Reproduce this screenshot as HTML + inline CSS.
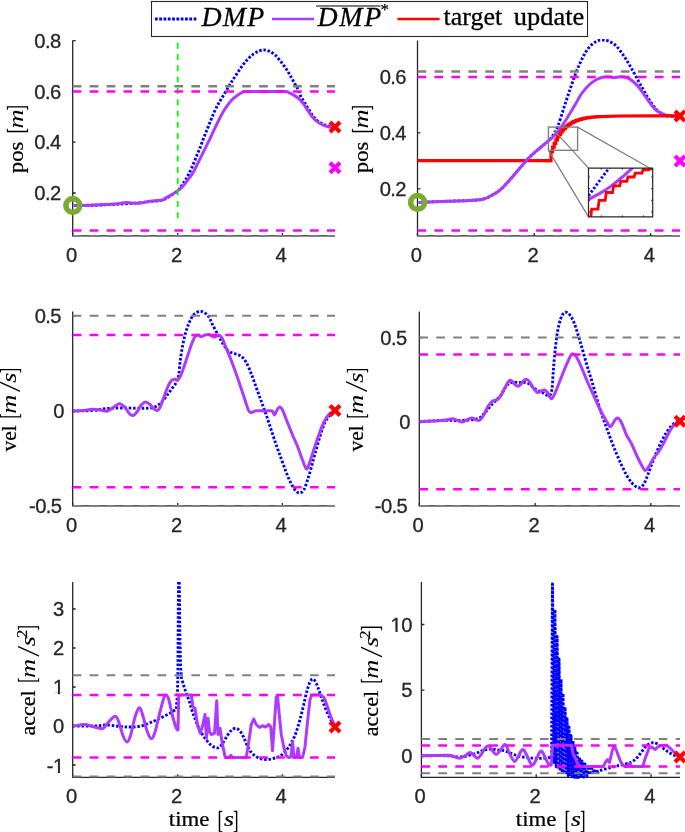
<!DOCTYPE html>
<html><head><meta charset="utf-8"><title>DMP plots</title>
<style>html,body{margin:0;padding:0;background:#fff}svg{display:block;will-change:transform}</style>
</head><body>
<svg width="685" height="832" viewBox="0 0 685 832">
<rect width="685" height="832" fill="#fff"/>
<defs>
<clipPath id="cTL"><rect x="70.7" y="39" width="267.3" height="198.9"/></clipPath>
<clipPath id="cTR"><rect x="415.5" y="39" width="267.5" height="198.9"/></clipPath>
<clipPath id="cML"><rect x="70.7" y="309.9" width="267.3" height="198"/></clipPath>
<clipPath id="cMR"><rect x="417.3" y="310" width="265.7" height="197.9"/></clipPath>
<clipPath id="cBL"><rect x="70.7" y="580.5" width="267.3" height="198.8"/></clipPath>
<clipPath id="cBR"><rect x="419.4" y="580.5" width="263.6" height="198.8"/></clipPath>
<clipPath id="cIN"><rect x="588.5" y="168.1" width="64.2" height="48.8"/></clipPath>
<clipPath id="k1"><rect x="-60" y="-30" width="70" height="28.15"/><rect x="-5.52" y="-2" width="2.01" height="2.3"/></clipPath>
<clipPath id="k10"><rect x="-60" y="-30" width="70" height="28.15"/><rect x="-15.75" y="-2" width="2.01" height="2.3"/><rect x="-10.4" y="-3" width="16" height="6"/></clipPath>
</defs>
<path d="M72.7 40.5V235.9H335" stroke="#262626" stroke-width="1.3" fill="none"/>
<path d="M72.7 235.9v-3M177.7 235.9v-3M282.4 235.9v-3M72.7 40.6h3M72.7 91.4h3M72.7 142.2h3M72.7 193h3" stroke="#262626" stroke-width="1.3" fill="none"/>
<text transform="translate(71.2 261.9) scale(1.04 1)" font-family="Liberation Sans, Arial, Helvetica, sans-serif" font-size="19.4" text-anchor="middle" fill="#262626" stroke="#262626" stroke-width="0.3" letter-spacing="-0.55">0</text>
<text transform="translate(176.2 261.9) scale(1.04 1)" font-family="Liberation Sans, Arial, Helvetica, sans-serif" font-size="19.4" text-anchor="middle" fill="#262626" stroke="#262626" stroke-width="0.3" letter-spacing="-0.55">2</text>
<text transform="translate(280.9 261.9) scale(1.04 1)" font-family="Liberation Sans, Arial, Helvetica, sans-serif" font-size="19.4" text-anchor="middle" fill="#262626" stroke="#262626" stroke-width="0.3" letter-spacing="-0.55">4</text>
<text transform="translate(60.7 47.7) scale(1.04 1)" font-family="Liberation Sans, Arial, Helvetica, sans-serif" font-size="19.4" text-anchor="end" fill="#262626" stroke="#262626" stroke-width="0.3" letter-spacing="-0.55">0.8</text>
<text transform="translate(60.7 98.5) scale(1.04 1)" font-family="Liberation Sans, Arial, Helvetica, sans-serif" font-size="19.4" text-anchor="end" fill="#262626" stroke="#262626" stroke-width="0.3" letter-spacing="-0.55">0.6</text>
<text transform="translate(60.7 149.3) scale(1.04 1)" font-family="Liberation Sans, Arial, Helvetica, sans-serif" font-size="19.4" text-anchor="end" fill="#262626" stroke="#262626" stroke-width="0.3" letter-spacing="-0.55">0.4</text>
<text transform="translate(60.7 200.1) scale(1.04 1)" font-family="Liberation Sans, Arial, Helvetica, sans-serif" font-size="19.4" text-anchor="end" fill="#262626" stroke="#262626" stroke-width="0.3" letter-spacing="-0.55">0.2</text>
<path d="M73.75 205.5C77.29 205.45 88.12 205.4 95 205.2C101.88 205 107.92 204.67 115 204.3C122.08 203.93 131.67 203.47 137.5 203C143.33 202.53 145.83 202 150 201.5C154.17 201 159.17 200.92 162.5 200C165.83 199.08 167.48 197.52 170 196C172.52 194.48 175.63 192.67 177.6 190.9C179.57 189.13 180.48 187.22 181.8 185.4C183.12 183.58 184.28 182 185.5 180C186.72 178 187.9 175.8 189.1 173.4C190.3 171 191.5 168.4 192.7 165.6C193.9 162.8 195.1 159.52 196.3 156.6C197.5 153.68 198.7 151.12 199.9 148.1C201.1 145.08 202.3 141.6 203.5 138.5C204.7 135.4 205.9 132.5 207.1 129.5C208.3 126.5 209.5 123.42 210.7 120.5C211.9 117.58 213.1 114.65 214.3 112C215.5 109.35 216.82 106.63 217.9 104.6C218.98 102.57 218.97 102.87 220.8 99.8C222.63 96.73 226.47 90.17 228.9 86.2C231.33 82.23 233.33 79.17 235.4 76C237.47 72.83 239.35 69.88 241.3 67.2C243.25 64.52 245.15 62.03 247.1 59.9C249.05 57.77 251.05 55.87 253 54.4C254.95 52.93 256.98 51.83 258.8 51.1C260.62 50.37 262.2 50 263.9 50C265.6 50 267.17 50.3 269 51.1C270.83 51.9 272.95 53.08 274.9 54.8C276.85 56.52 278.83 59.08 280.7 61.4C282.57 63.72 284.4 66.15 286.1 68.7C287.8 71.25 289.37 74.03 290.9 76.7C292.43 79.37 294.1 82.58 295.3 84.7C296.5 86.82 297.42 87.88 298.1 89.4C298.78 90.92 298.82 92.42 299.4 93.8C299.98 95.18 300.87 96.47 301.6 97.7C302.33 98.93 303.07 99.97 303.8 101.2C304.53 102.43 305.27 103.87 306 105.1C306.73 106.33 307.47 107.43 308.2 108.6C308.93 109.77 309.67 110.93 310.4 112.1C311.13 113.27 311.58 114.28 312.6 115.6C313.62 116.92 314.97 118.67 316.5 120C318.03 121.33 320.27 122.73 321.8 123.6C323.33 124.47 324.33 124.7 325.7 125.2C327.07 125.7 328.45 126.27 330 126.6C331.55 126.93 334.17 127.1 335 127.2" stroke="#0000ff" stroke-width="2.9" stroke-dasharray="2.5 1.8" stroke-dashoffset="0" fill="none" stroke-linejoin="round" clip-path="url(#cTL)"/>
<path d="M73.75 205.5C77.29 205.42 88.12 205.25 95 205C101.88 204.75 109.79 204.4 115 204C120.21 203.6 122.5 202.72 126.25 202.6C130 202.47 133.54 203.47 137.5 203.25C141.46 203.03 145.83 201.79 150 201.25C154.17 200.71 160 200.49 162.5 200C165 199.51 163.58 199.12 165 198.3C166.42 197.48 168.9 196.33 171 195.1C173.1 193.87 175.58 192.42 177.6 190.9C179.62 189.38 181.18 188.12 183.1 186C185.02 183.88 187.4 180.5 189.1 178.2C190.8 175.9 191.9 174.6 193.3 172.2C194.7 169.8 196.2 166.4 197.5 163.8C198.8 161.2 199.8 159.22 201.1 156.6C202.4 153.98 203.9 150.92 205.3 148.1C206.7 145.28 208.1 142.6 209.5 139.7C210.9 136.8 212.18 133.9 213.7 130.7C215.22 127.5 217.08 123.52 218.6 120.5C220.12 117.48 221.3 115.15 222.8 112.6C224.3 110.05 226.07 107.33 227.6 105.2C229.13 103.07 230.45 101.38 232 99.8C233.55 98.22 235.12 96.97 236.9 95.7C238.68 94.43 241.12 92.9 242.7 92.2C244.28 91.5 242.52 91.62 246.4 91.5C250.28 91.38 259.57 91.48 266 91.5C272.43 91.52 281.1 91.37 285 91.6C288.9 91.83 287.93 92.32 289.4 92.9C290.87 93.48 292.35 94.23 293.8 95.1C295.25 95.97 296.65 96.87 298.1 98.1C299.55 99.33 301.03 100.67 302.5 102.5C303.97 104.33 305.43 106.92 306.9 109.1C308.37 111.28 309.85 113.7 311.3 115.6C312.75 117.5 314.15 119.18 315.6 120.5C317.05 121.82 318.53 122.63 320 123.5C321.47 124.37 322.93 125.13 324.4 125.7C325.87 126.27 327.03 126.63 328.8 126.9C330.57 127.17 333.97 127.23 335 127.3" stroke="#ad3bff" stroke-width="3" fill="none" stroke-linejoin="round" clip-path="url(#cTL)"/>
<path d="M177.7 42.7V218.8" stroke="#00ff00" stroke-width="1.8" stroke-dasharray="6.0 5.3" fill="none"/>
<path d="M72.7 86.3H335" stroke="#808080" stroke-width="2.5" stroke-dasharray="8.7 8.25" stroke-dashoffset="0" fill="none"/>
<path d="M72.7 91.5H335" stroke="#ff00ff" stroke-width="2.5" stroke-dasharray="8.7 8.25" stroke-dashoffset="0" fill="none"/>
<path d="M72.7 230.6H335" stroke="#ff00ff" stroke-width="2.5" stroke-dasharray="8.7 8.25" stroke-dashoffset="0" fill="none"/>
<path d="M72.7 235.9H335" stroke="#808080" stroke-width="2" stroke-dasharray="8.7 8.25" stroke-dashoffset="0" fill="none"/>
<circle cx="72.8" cy="205.5" r="6.9" stroke="#77ac30" stroke-width="5.6" fill="none"/>
<path d="M330 122.1L340 132.1M330 132.1L340 122.1" stroke="#ff0000" stroke-width="4.2" fill="none"/>
<path d="M330 162.7L340 172.7M330 172.7L340 162.7" stroke="#ff00ff" stroke-width="4.2" fill="none"/>
<g transform="translate(23.3 172.8) rotate(-90)" font-family="Liberation Serif, Times New Roman, serif" fill="#000"><text transform="translate(-0.36 0) scale(1.027 1)" font-size="22" stroke="#000" stroke-width="0.25">pos</text><text transform="translate(39.47 0.4) scale(0.694 1.17)" font-size="22" stroke="#000" stroke-width="0.25">[</text><text transform="translate(44.25 0) scale(1.200 1)" font-size="22" font-style="italic">m</text><text transform="translate(62.65 0.4) scale(0.694 1.17)" font-size="22" stroke="#000" stroke-width="0.25">]</text></g>
<path d="M417.5 40.5V235.9H680" stroke="#262626" stroke-width="1.3" fill="none"/>
<path d="M417.5 235.9v-3M534.3 235.9v-3M650.6 235.9v-3M417.5 76.9h3M417.5 132.9h3M417.5 188.9h3" stroke="#262626" stroke-width="1.3" fill="none"/>
<text transform="translate(416 261.9) scale(1.04 1)" font-family="Liberation Sans, Arial, Helvetica, sans-serif" font-size="19.4" text-anchor="middle" fill="#262626" stroke="#262626" stroke-width="0.3" letter-spacing="-0.55">0</text>
<text transform="translate(532.8 261.9) scale(1.04 1)" font-family="Liberation Sans, Arial, Helvetica, sans-serif" font-size="19.4" text-anchor="middle" fill="#262626" stroke="#262626" stroke-width="0.3" letter-spacing="-0.55">2</text>
<text transform="translate(649.1 261.9) scale(1.04 1)" font-family="Liberation Sans, Arial, Helvetica, sans-serif" font-size="19.4" text-anchor="middle" fill="#262626" stroke="#262626" stroke-width="0.3" letter-spacing="-0.55">4</text>
<text transform="translate(406 84) scale(1.04 1)" font-family="Liberation Sans, Arial, Helvetica, sans-serif" font-size="19.4" text-anchor="end" fill="#262626" stroke="#262626" stroke-width="0.3" letter-spacing="-0.55">0.6</text>
<text transform="translate(406 140) scale(1.04 1)" font-family="Liberation Sans, Arial, Helvetica, sans-serif" font-size="19.4" text-anchor="end" fill="#262626" stroke="#262626" stroke-width="0.3" letter-spacing="-0.55">0.4</text>
<text transform="translate(406 196) scale(1.04 1)" font-family="Liberation Sans, Arial, Helvetica, sans-serif" font-size="19.4" text-anchor="end" fill="#262626" stroke="#262626" stroke-width="0.3" letter-spacing="-0.55">0.2</text>
<path d="M417.5 160.6H551.5" stroke="#ff0000" stroke-width="3.2" fill="none" stroke-linejoin="miter" clip-path="url(#cTR)"/>
<path d="M418.75 202.5C423.54 202.29 438.96 201.58 447.5 201.25C456.04 200.92 463.96 200.88 470 200.5C476.04 200.12 480 199.92 483.75 199C487.5 198.08 489.79 196.5 492.5 195C495.21 193.5 497.5 192.08 500 190C502.5 187.92 505 185.21 507.5 182.5C510 179.79 512.5 176.67 515 173.75C517.5 170.83 520 167.83 522.5 165C525 162.17 527.5 159.25 530 156.75C532.5 154.25 535 152.17 537.5 150C540 147.83 542.67 145.83 545 143.75C547.33 141.67 549.38 140.42 551.5 137.5C553.62 134.58 555.67 131.25 557.75 126.25C559.83 121.25 561.92 113.75 564 107.5C566.08 101.25 568.17 94.79 570.25 88.75C572.33 82.71 574.42 76.46 576.5 71.25C578.58 66.04 580.67 61.46 582.75 57.5C584.83 53.54 586.71 50.21 589 47.5C591.29 44.79 594.21 42.5 596.5 41.25C598.79 40 600.67 40 602.75 40C604.83 40 606.71 40.21 609 41.25C611.29 42.29 614 43.75 616.5 46.25C619 48.75 621.71 52.92 624 56.25C626.29 59.58 628.17 62.71 630.25 66.25C632.33 69.79 634.42 73.75 636.5 77.5C638.58 81.25 640.83 85.37 642.75 88.75C644.67 92.13 646.38 95.16 648 97.8C649.62 100.44 651 102.53 652.5 104.6C654 106.67 655.5 108.7 657 110.2C658.5 111.7 660 112.7 661.5 113.6C663 114.5 664.42 115.17 666 115.6C667.58 116.03 668.75 116.08 671 116.2C673.25 116.32 678.08 116.28 679.5 116.3" stroke="#0000ff" stroke-width="2.9" stroke-dasharray="2.5 1.8" stroke-dashoffset="0" fill="none" stroke-linejoin="round" clip-path="url(#cTR)"/>
<path d="M418.75 202.5C423.54 202.29 438.96 201.58 447.5 201.25C456.04 200.92 463.96 200.88 470 200.5C476.04 200.12 480 199.92 483.75 199C487.5 198.08 489.79 196.5 492.5 195C495.21 193.5 497.5 192.08 500 190C502.5 187.92 505 185.21 507.5 182.5C510 179.79 512.5 176.67 515 173.75C517.5 170.83 520 167.83 522.5 165C525 162.17 527.5 159.25 530 156.75C532.5 154.25 535 152.17 537.5 150C540 147.83 542.5 145.83 545 143.75C547.5 141.67 550 140 552.5 137.5C555 135 557.5 132.08 560 128.75C562.5 125.42 565 121.46 567.5 117.5C570 113.54 572.67 108.96 575 105C577.33 101.04 579.17 97.08 581.5 93.75C583.83 90.42 586.5 87.38 589 85C591.5 82.62 594 80.83 596.5 79.5C599 78.17 601.71 77.42 604 77C606.29 76.58 608.58 76.88 610.25 77C611.92 77.12 612.33 77.79 614 77.75C615.67 77.71 618.17 76.79 620.25 76.75C622.33 76.71 624.42 76.75 626.5 77.5C628.58 78.25 630.67 79.58 632.75 81.25C634.83 82.92 636.92 85 639 87.5C641.08 90 643.4 93.63 645.25 96.25C647.1 98.87 648.44 101.03 650.1 103.2C651.76 105.38 653.5 107.68 655.2 109.3C656.9 110.92 658.6 111.97 660.3 112.9C662 113.83 663.62 114.42 665.4 114.9C667.18 115.38 668.65 115.58 671 115.8C673.35 116.02 678.08 116.13 679.5 116.2" stroke="#ad3bff" stroke-width="3" fill="none" stroke-linejoin="round" clip-path="url(#cTR)"/>
<path d="M545 160.6L551 160.6L551 151.55L552.6 151.55L552.6 147.15L554.2 147.15L554.2 143.29L555.8 143.29L555.8 139.92L557.4 139.92L557.4 136.96L559 136.96L559 134.36L560.6 134.36L560.6 132.09L562.2 132.09L562.2 130.1L563.8 130.1L563.8 128.35L565.4 128.35L565.4 126.82L567 126.82L567 125.48L568.6 125.48L568.6 124.3L570.2 124.3L570.2 123.27L571.8 123.27L571.8 122.37L573.4 122.37L573.4 121.58L575 121.58L575 120.89L576.6 120.89L576.6 120.28L578.2 120.28L578.2 119.75L579.8 119.75L579.8 119.28L581.4 119.28L581.4 118.87L583 118.87L583 118.51L584.6 118.51L584.6 118.19L586.2 118.19L586.2 117.92L587.8 117.92L587.8 117.67L589.4 117.67L589.4 117.46L591 117.46L591 117.27L592.6 117.27L592.6 117.11L594.2 117.11L594.2 116.96L595.8 116.96L595.8 116.84L597.4 116.84L597.4 116.72L599 116.72L599 116.63L600.6 116.63L620 116L650 115.9L679.5 115.9" stroke="#ff0000" stroke-width="3.2" fill="none" stroke-linejoin="miter" clip-path="url(#cTR)"/>
<path d="M417.5 71.5H680" stroke="#808080" stroke-width="2.5" stroke-dasharray="8.7 8.25" stroke-dashoffset="0" fill="none"/>
<path d="M417.5 77H680" stroke="#ff00ff" stroke-width="2.5" stroke-dasharray="8.7 8.25" stroke-dashoffset="0" fill="none"/>
<path d="M417.5 230.6H680" stroke="#ff00ff" stroke-width="2.5" stroke-dasharray="8.7 8.25" stroke-dashoffset="0" fill="none"/>
<path d="M417.5 235.9H680" stroke="#808080" stroke-width="2" stroke-dasharray="8.7 8.25" stroke-dashoffset="0" fill="none"/>
<circle cx="417.6" cy="202.4" r="6.9" stroke="#77ac30" stroke-width="5.6" fill="none"/>
<path d="M675 111.1L685 121.1M675 121.1L685 111.1" stroke="#ff0000" stroke-width="4.2" fill="none"/>
<path d="M675 155.9L685 165.9M675 165.9L685 155.9" stroke="#ff00ff" stroke-width="4.2" fill="none"/>
<rect x="548.4" y="127.1" width="29.2" height="23.2" stroke="#808080" stroke-width="1.4" fill="none"/>
<path d="M548.5 150.4L588.5 216.9M577.6 127.1L652.7 169.8M554 130.1L588.5 168.1" stroke="#808080" stroke-width="1.3" fill="none"/>
<rect x="588.5" y="168.1" width="64.2" height="48.8" fill="#fff"/>
<path d="M588.5 195.8L599 181.5L609 168.1L612 164" stroke="#0000ff" stroke-width="2.9" stroke-dasharray="2.3 2.0" stroke-dashoffset="0" fill="none" stroke-linejoin="round" clip-path="url(#cIN)"/>
<path d="M585 202C585.5 201.62 585.57 201.1 588 199.7C590.43 198.3 595.82 195.82 599.6 193.6C603.38 191.38 607 189.08 610.7 186.4C614.4 183.72 618.18 180.55 621.8 177.5C625.42 174.45 630.03 170.18 632.4 168.1C634.77 166.02 635.4 165.52 636 165" stroke="#ad3bff" stroke-width="3" fill="none" stroke-linejoin="round" clip-path="url(#cIN)"/>
<path d="M590.5 220L591.6 209.2L598 209.2L599.1 200.3L605.2 200.3L606.3 192.5L612.5 192.5L613.6 185.9L619.7 185.9L620.8 181.4L626.9 181.4L628 177L634.1 177L635.2 173.1L641.9 173.1L643 169.8L649.1 169.8L650.2 168.6L653.5 168.6L660 168.6" stroke="#ff0000" stroke-width="2.8" fill="none" stroke-linejoin="miter" clip-path="url(#cIN)"/>
<path d="M588.5 168.1H652.7V216.9H588.5ZM601.3 216.9v-1.4M601.3 168.1v1.4M622.4 216.9v-1.4M622.4 168.1v1.4M643.5 216.9v-1.4M643.5 168.1v1.4M588.5 177h1.4M652.7 177h-1.4M588.5 188.6h1.4M652.7 188.6h-1.4M588.5 200.3h1.4M652.7 200.3h-1.4M588.5 211.9h1.4M652.7 211.9h-1.4" stroke="#262626" stroke-width="1.2" fill="none"/>
<g transform="translate(368.3 172.8) rotate(-90)" font-family="Liberation Serif, Times New Roman, serif" fill="#000"><text transform="translate(-0.36 0) scale(1.027 1)" font-size="22" stroke="#000" stroke-width="0.25">pos</text><text transform="translate(39.47 0.4) scale(0.694 1.17)" font-size="22" stroke="#000" stroke-width="0.25">[</text><text transform="translate(44.25 0) scale(1.200 1)" font-size="22" font-style="italic">m</text><text transform="translate(62.65 0.4) scale(0.694 1.17)" font-size="22" stroke="#000" stroke-width="0.25">]</text></g>
<path d="M72.7 311.4V505.9H335" stroke="#262626" stroke-width="1.3" fill="none"/>
<path d="M72.7 505.9v-3M177.7 505.9v-3M282.4 505.9v-3M72.7 315.8h3M72.7 411h3M72.7 505.9h3" stroke="#262626" stroke-width="1.3" fill="none"/>
<text transform="translate(71.2 531.9) scale(1.04 1)" font-family="Liberation Sans, Arial, Helvetica, sans-serif" font-size="19.4" text-anchor="middle" fill="#262626" stroke="#262626" stroke-width="0.3" letter-spacing="-0.55">0</text>
<text transform="translate(176.2 531.9) scale(1.04 1)" font-family="Liberation Sans, Arial, Helvetica, sans-serif" font-size="19.4" text-anchor="middle" fill="#262626" stroke="#262626" stroke-width="0.3" letter-spacing="-0.55">2</text>
<text transform="translate(280.9 531.9) scale(1.04 1)" font-family="Liberation Sans, Arial, Helvetica, sans-serif" font-size="19.4" text-anchor="middle" fill="#262626" stroke="#262626" stroke-width="0.3" letter-spacing="-0.55">4</text>
<text transform="translate(61 322.9) scale(1.04 1)" font-family="Liberation Sans, Arial, Helvetica, sans-serif" font-size="19.4" text-anchor="end" fill="#262626" stroke="#262626" stroke-width="0.3" letter-spacing="-0.55">0.5</text>
<text transform="translate(63.9 418.1) scale(1.04 1)" font-family="Liberation Sans, Arial, Helvetica, sans-serif" font-size="19.4" text-anchor="end" fill="#262626" stroke="#262626" stroke-width="0.3" letter-spacing="-0.55">0</text>
<text transform="translate(61.5 513) scale(1.04 1)" font-family="Liberation Sans, Arial, Helvetica, sans-serif" font-size="19.4" text-anchor="end" fill="#262626" stroke="#262626" stroke-width="0.3" letter-spacing="-0.55">-0.5</text>
<path d="M73 411C76.25 410.92 87.17 410.88 92.5 410.5C97.83 410.12 100.42 409.17 105 408.75C109.58 408.33 114.17 408.08 120 408C125.83 407.92 135 408.25 140 408.25C145 408.25 147.29 408.33 150 408C152.71 407.67 154.38 407.17 156.25 406.25C158.12 405.33 159.58 404.17 161.25 402.5C162.92 400.83 164.58 398.42 166.25 396.25C167.92 394.08 169.58 391.79 171.25 389.5C172.92 387.21 175 384.92 176.25 382.5C177.5 380.08 178.12 378.33 178.75 375C179.38 371.67 179.43 367 180 362.5C180.57 358 181.37 352.58 182.2 348C183.03 343.42 183.91 339.04 185 335C186.09 330.96 187.42 327 188.75 323.75C190.08 320.5 191.54 317.46 193 315.5C194.46 313.54 196.21 312.71 197.5 312C198.79 311.29 199.5 311.08 200.75 311.25C202 311.42 203.62 312.04 205 313C206.38 313.96 207.75 315.08 209 317C210.25 318.92 210.88 321.29 212.5 324.5C214.12 327.71 216.88 332.83 218.75 336.25C220.62 339.67 222.08 342.5 223.75 345C225.42 347.5 226.88 349.79 228.75 351.25C230.62 352.71 232.92 352.92 235 353.75C237.08 354.58 239.38 354.79 241.25 356.25C243.12 357.71 244.58 359.58 246.25 362.5C247.92 365.42 249.58 369.58 251.25 373.75C252.92 377.92 254.58 382.92 256.25 387.5C257.92 392.08 259.58 396.67 261.25 401.25C262.92 405.83 264.58 410.21 266.25 415C267.92 419.79 269.58 425 271.25 430C272.92 435 274.58 440.21 276.25 445C277.92 449.79 279.58 454.17 281.25 458.75C282.92 463.33 284.58 468.33 286.25 472.5C287.92 476.67 289.58 480.62 291.25 483.75C292.92 486.88 294.79 489.71 296.25 491.25C297.71 492.79 298.75 493.21 300 493C301.25 492.79 302.5 492.17 303.75 490C305 487.83 306.25 483.75 307.5 480C308.75 476.25 310 471.88 311.25 467.5C312.5 463.12 313.54 458.96 315 453.75C316.46 448.54 318.33 441.46 320 436.25C321.67 431.04 323.33 426.04 325 422.5C326.67 418.96 328.33 416.88 330 415C331.67 413.12 334.17 411.88 335 411.25" stroke="#0000ff" stroke-width="2.9" stroke-dasharray="2.5 1.8" stroke-dashoffset="0" fill="none" stroke-linejoin="round" clip-path="url(#cML)"/>
<path d="M73 411C74.58 410.92 79.25 410.79 82.5 410.5C85.75 410.21 89.58 409.33 92.5 409.25C95.42 409.17 97.58 409.67 100 410C102.42 410.33 104.92 411.58 107 411.25C109.08 410.92 110.42 409.25 112.5 408C114.58 406.75 117.42 403.83 119.5 403.75C121.58 403.67 123.33 405.83 125 407.5C126.67 409.17 128.17 412.42 129.5 413.75C130.83 415.08 131.67 415.92 133 415.5C134.33 415.08 136.12 413 137.5 411.25C138.88 409.5 139.92 406.54 141.25 405C142.58 403.46 144.04 402.08 145.5 402C146.96 401.92 148.62 403.38 150 404.5C151.38 405.62 152.58 407.75 153.75 408.75C154.92 409.75 155.96 410.71 157 410.5C158.04 410.29 158.88 409.67 160 407.5C161.12 405.33 162.5 400.83 163.75 397.5C165 394.17 166.25 390.29 167.5 387.5C168.75 384.71 170.08 382.12 171.25 380.75C172.42 379.38 173.46 379.38 174.5 379.25C175.54 379.12 176.58 380.38 177.5 380C178.42 379.62 178.96 379.08 180 377C181.04 374.92 182.5 370.96 183.75 367.5C185 364.04 186.25 360 187.5 356.25C188.75 352.5 190.08 348.12 191.25 345C192.42 341.88 193.46 339.17 194.5 337.5C195.54 335.83 196.38 335.12 197.5 335C198.62 334.88 200 336.75 201.25 336.75C202.5 336.75 203.75 335.38 205 335C206.25 334.62 207.5 334.29 208.75 334.5C210 334.71 211.46 335.83 212.5 336.25C213.54 336.67 214 337.21 215 337C216 336.79 217.38 334.92 218.5 335C219.62 335.08 220.58 335.62 221.75 337.5C222.92 339.38 223.71 341.88 225.5 346.25C227.29 350.62 230.29 357.92 232.5 363.75C234.71 369.58 236.67 375.21 238.75 381.25C240.83 387.29 243.46 395.38 245 400C246.54 404.62 247.08 406.92 248 409C248.92 411.08 249.12 412.21 250.5 412.5C251.88 412.79 253.83 411 256.25 410.75C258.67 410.5 262.38 410.96 265 411C267.62 411.04 270.42 410.33 272 411C273.58 411.67 273.67 415.17 274.5 415C275.33 414.83 276.17 411.33 277 410C277.83 408.67 278.58 407 279.5 407C280.42 407 281.17 407.42 282.5 410C283.83 412.58 285.83 418.33 287.5 422.5C289.17 426.67 290.83 431.04 292.5 435C294.17 438.96 295.83 442.08 297.5 446.25C299.17 450.42 301.04 456.25 302.5 460C303.96 463.75 305.21 467.92 306.25 468.75C307.29 469.58 307.5 468.12 308.75 465C310 461.88 312.08 455 313.75 450C315.42 445 317.08 439.58 318.75 435C320.42 430.42 322.08 425.92 323.75 422.5C325.42 419.08 327.08 416.38 328.75 414.5C330.42 412.62 332.62 411.92 333.75 411.25C334.88 410.58 335.21 410.62 335.5 410.5" stroke="#ad3bff" stroke-width="3" fill="none" stroke-linejoin="round" clip-path="url(#cML)"/>
<path d="M72.7 315.8H335" stroke="#808080" stroke-width="2" stroke-dasharray="8.7 8.25" stroke-dashoffset="0" fill="none"/>
<path d="M72.7 334.9H335" stroke="#ff00ff" stroke-width="2.5" stroke-dasharray="8.7 8.25" stroke-dashoffset="0" fill="none"/>
<path d="M72.7 487.2H335" stroke="#ff00ff" stroke-width="2.5" stroke-dasharray="8.7 8.25" stroke-dashoffset="0" fill="none"/>
<path d="M72.7 506H335" stroke="#808080" stroke-width="2" stroke-dasharray="8.7 8.25" stroke-dashoffset="0" fill="none"/>
<path d="M330 405.6L340 415.6M330 415.6L340 405.6" stroke="#ff0000" stroke-width="4.2" fill="none"/>
<g transform="translate(16.2 451.4) rotate(-90)" font-family="Liberation Serif, Times New Roman, serif" fill="#000"><text transform="translate(0 0) scale(0.976 1)" font-size="22" stroke="#000" stroke-width="0.25">vel</text><text transform="translate(32.87 0.4) scale(0.694 1.17)" font-size="22" stroke="#000" stroke-width="0.25">[</text><text transform="translate(37.65 0) scale(1.200 1)" font-size="22" font-style="italic">m</text><text transform="translate(60.75 4.2) scale(1.239 1.46)" font-size="22" font-style="italic">/</text><text transform="translate(68.68 0) scale(1.180 1)" font-size="22" font-style="italic" stroke="#000" stroke-width="0.1">s</text><text transform="translate(78.45 0.4) scale(0.694 1.17)" font-size="22" stroke="#000" stroke-width="0.25">]</text></g>
<path d="M419.3 311.5V505.9H680" stroke="#262626" stroke-width="1.3" fill="none"/>
<path d="M419.3 505.9v-3M535.2 505.9v-3M650.8 505.9v-3M419.3 337.5h3M419.3 421.7h3M419.3 505.9h3" stroke="#262626" stroke-width="1.3" fill="none"/>
<text transform="translate(417.8 531.9) scale(1.04 1)" font-family="Liberation Sans, Arial, Helvetica, sans-serif" font-size="19.4" text-anchor="middle" fill="#262626" stroke="#262626" stroke-width="0.3" letter-spacing="-0.55">0</text>
<text transform="translate(533.7 531.9) scale(1.04 1)" font-family="Liberation Sans, Arial, Helvetica, sans-serif" font-size="19.4" text-anchor="middle" fill="#262626" stroke="#262626" stroke-width="0.3" letter-spacing="-0.55">2</text>
<text transform="translate(649.3 531.9) scale(1.04 1)" font-family="Liberation Sans, Arial, Helvetica, sans-serif" font-size="19.4" text-anchor="middle" fill="#262626" stroke="#262626" stroke-width="0.3" letter-spacing="-0.55">4</text>
<text transform="translate(406.7 344.6) scale(1.04 1)" font-family="Liberation Sans, Arial, Helvetica, sans-serif" font-size="19.4" text-anchor="end" fill="#262626" stroke="#262626" stroke-width="0.3" letter-spacing="-0.55">0.5</text>
<text transform="translate(410 428.8) scale(1.04 1)" font-family="Liberation Sans, Arial, Helvetica, sans-serif" font-size="19.4" text-anchor="end" fill="#262626" stroke="#262626" stroke-width="0.3" letter-spacing="-0.55">0</text>
<text transform="translate(407.2 513) scale(1.04 1)" font-family="Liberation Sans, Arial, Helvetica, sans-serif" font-size="19.4" text-anchor="end" fill="#262626" stroke="#262626" stroke-width="0.3" letter-spacing="-0.55">-0.5</text>
<path d="M419.5 421.75C423.75 421.5 438.25 420.46 445 420.25C451.75 420.04 454.58 420.75 460 420.5C465.42 420.25 473.33 420.08 477.5 418.75C481.67 417.42 482.5 415 485 412.5C487.5 410 490 406.46 492.5 403.75C495 401.04 497.71 399.17 500 396.25C502.29 393.33 504.38 388.54 506.25 386.25C508.12 383.96 508.96 383.12 511.25 382.5C513.54 381.88 517.29 382.42 520 382.5C522.71 382.58 525 381.96 527.5 383C530 384.04 532.5 387.17 535 388.75C537.5 390.33 540.17 391.33 542.5 392.5C544.83 393.67 547.43 396.25 549 395.75C550.57 395.25 551.18 393.62 551.9 389.5C552.62 385.38 552.78 377.33 553.3 371C553.82 364.67 554.3 358 555 351.5C555.7 345 556.54 337.5 557.5 332C558.46 326.5 559.67 321.67 560.75 318.5C561.83 315.33 562.96 314 564 313C565.04 312 565.96 312.08 567 312.5C568.04 312.92 569.08 313.83 570.25 315.5C571.42 317.17 572.75 319.46 574 322.5C575.25 325.54 576.5 329.79 577.75 333.75C579 337.71 580.04 341.25 581.5 346.25C582.96 351.25 584.83 358.12 586.5 363.75C588.17 369.38 589.83 374.38 591.5 380C593.17 385.62 594.83 391.88 596.5 397.5C598.17 403.12 599.83 408.75 601.5 413.75C603.17 418.75 604.83 422.92 606.5 427.5C608.17 432.08 609.83 436.88 611.5 441.25C613.17 445.62 614.83 449.79 616.5 453.75C618.17 457.71 619.83 461.46 621.5 465C623.17 468.54 624.83 472.08 626.5 475C628.17 477.92 629.83 480.5 631.5 482.5C633.17 484.5 635.04 486.17 636.5 487C637.96 487.83 639 488.04 640.25 487.5C641.5 486.96 642.75 485.83 644 483.75C645.25 481.67 646.5 478.12 647.75 475C649 471.88 650.04 468.75 651.5 465C652.96 461.25 654.83 456.46 656.5 452.5C658.17 448.54 659.83 444.58 661.5 441.25C663.17 437.92 664.83 435.08 666.5 432.5C668.17 429.92 669.83 427.5 671.5 425.75C673.17 424 675.17 422.83 676.5 422C677.83 421.17 679 420.96 679.5 420.75" stroke="#0000ff" stroke-width="2.9" stroke-dasharray="2.5 1.8" stroke-dashoffset="0" fill="none" stroke-linejoin="round" clip-path="url(#cMR)"/>
<path d="M419.5 421.75C422.08 421.62 430.75 421.25 435 421C439.25 420.75 442.08 420.62 445 420.25C447.92 419.88 450.42 418.71 452.5 418.75C454.58 418.79 455.83 419.96 457.5 420.5C459.17 421.04 460.83 422.17 462.5 422C464.17 421.83 465.92 420.17 467.5 419.5C469.08 418.83 470.54 417.92 472 418C473.46 418.08 474.92 419.67 476.25 420C477.58 420.33 478.75 420.83 480 420C481.25 419.17 482.42 417.29 483.75 415C485.08 412.71 486.54 408.54 488 406.25C489.46 403.96 490.92 402.38 492.5 401.25C494.08 400.12 496.04 400.54 497.5 399.5C498.96 398.46 500 397 501.25 395C502.5 393 503.75 389.79 505 387.5C506.25 385.21 507.71 382.42 508.75 381.25C509.79 380.08 510.21 379.96 511.25 380.5C512.29 381.04 513.88 383.54 515 384.5C516.12 385.46 516.96 386.38 518 386.25C519.04 386.12 520.17 384.79 521.25 383.75C522.33 382.71 523.54 380.71 524.5 380C525.46 379.29 526.08 379.08 527 379.5C527.92 379.92 528.88 380.96 530 382.5C531.12 384.04 532.5 387.08 533.75 388.75C535 390.42 536.25 392.12 537.5 392.5C538.75 392.88 540.08 391.42 541.25 391C542.42 390.58 543.46 389.75 544.5 390C545.54 390.25 546.35 391.04 547.5 392.5C548.65 393.96 550.11 398.75 551.4 398.75C552.69 398.75 553.77 395.62 555.25 392.5C556.73 389.38 558.58 384.17 560.25 380C561.92 375.83 563.58 371.42 565.25 367.5C566.92 363.58 569.02 358.79 570.25 356.5C571.48 354.21 571.56 353.67 572.6 353.75C573.64 353.83 575.02 354.71 576.5 357C577.98 359.29 579.62 363.25 581.5 367.5C583.38 371.75 585.67 377.71 587.75 382.5C589.83 387.29 591.92 391.67 594 396.25C596.08 400.83 598.17 405.83 600.25 410C602.33 414.17 604.83 418.46 606.5 421.25C608.17 424.04 609.21 426.33 610.25 426.75C611.29 427.17 611.79 425.08 612.75 423.75C613.71 422.42 614.96 419.58 616 418.75C617.04 417.92 618 417.92 619 418.75C620 419.58 620.75 421.04 622 423.75C623.25 426.46 624.92 431.67 626.5 435C628.08 438.33 629.83 440.42 631.5 443.75C633.17 447.08 634.83 451.46 636.5 455C638.17 458.54 640.04 462.42 641.5 465C642.96 467.58 644 470.29 645.25 470.5C646.5 470.71 647.54 468.42 649 466.25C650.46 464.08 652.33 460 654 457.5C655.67 455 657.33 453.75 659 451.25C660.67 448.75 662.33 445.62 664 442.5C665.67 439.38 667.33 435.42 669 432.5C670.67 429.58 672.25 426.88 674 425C675.75 423.12 678.58 421.88 679.5 421.25" stroke="#ad3bff" stroke-width="3" fill="none" stroke-linejoin="round" clip-path="url(#cMR)"/>
<path d="M419.3 337.5H680" stroke="#808080" stroke-width="2" stroke-dasharray="8.7 8.25" stroke-dashoffset="0" fill="none"/>
<path d="M419.3 354.4H680" stroke="#ff00ff" stroke-width="2.5" stroke-dasharray="8.7 8.25" stroke-dashoffset="0" fill="none"/>
<path d="M419.3 489.3H680" stroke="#ff00ff" stroke-width="2.5" stroke-dasharray="8.7 8.25" stroke-dashoffset="0" fill="none"/>
<path d="M419.3 506H680" stroke="#808080" stroke-width="2" stroke-dasharray="8.7 8.25" stroke-dashoffset="0" fill="none"/>
<path d="M675 416.2L685 426.2M675 426.2L685 416.2" stroke="#ff0000" stroke-width="4.2" fill="none"/>
<g transform="translate(363.2 451.4) rotate(-90)" font-family="Liberation Serif, Times New Roman, serif" fill="#000"><text transform="translate(0 0) scale(0.976 1)" font-size="22" stroke="#000" stroke-width="0.25">vel</text><text transform="translate(32.87 0.4) scale(0.694 1.17)" font-size="22" stroke="#000" stroke-width="0.25">[</text><text transform="translate(37.65 0) scale(1.200 1)" font-size="22" font-style="italic">m</text><text transform="translate(60.75 4.2) scale(1.239 1.46)" font-size="22" font-style="italic">/</text><text transform="translate(68.68 0) scale(1.180 1)" font-size="22" font-style="italic" stroke="#000" stroke-width="0.1">s</text><text transform="translate(78.45 0.4) scale(0.694 1.17)" font-size="22" stroke="#000" stroke-width="0.25">]</text></g>
<path d="M72.7 582V777.3H335" stroke="#262626" stroke-width="1.3" fill="none"/>
<path d="M72.7 777.3v-3M177.7 777.3v-3M282.4 777.3v-3M72.7 609h3M72.7 648h3M72.7 687h3M72.7 726h3M72.7 765h3" stroke="#262626" stroke-width="1.3" fill="none"/>
<text transform="translate(71.2 803.3) scale(1.04 1)" font-family="Liberation Sans, Arial, Helvetica, sans-serif" font-size="19.4" text-anchor="middle" fill="#262626" stroke="#262626" stroke-width="0.3" letter-spacing="-0.55">0</text>
<text transform="translate(176.2 803.3) scale(1.04 1)" font-family="Liberation Sans, Arial, Helvetica, sans-serif" font-size="19.4" text-anchor="middle" fill="#262626" stroke="#262626" stroke-width="0.3" letter-spacing="-0.55">2</text>
<text transform="translate(280.9 803.3) scale(1.04 1)" font-family="Liberation Sans, Arial, Helvetica, sans-serif" font-size="19.4" text-anchor="middle" fill="#262626" stroke="#262626" stroke-width="0.3" letter-spacing="-0.55">4</text>
<text transform="translate(63.6 616.1) scale(1.04 1)" font-family="Liberation Sans, Arial, Helvetica, sans-serif" font-size="19.4" text-anchor="end" fill="#262626" stroke="#262626" stroke-width="0.3" letter-spacing="-0.55">3</text>
<text transform="translate(63.6 655.1) scale(1.04 1)" font-family="Liberation Sans, Arial, Helvetica, sans-serif" font-size="19.4" text-anchor="end" fill="#262626" stroke="#262626" stroke-width="0.3" letter-spacing="-0.55">2</text>
<text transform="translate(63.6 694.1) scale(1.04 1)" font-family="Liberation Sans, Arial, Helvetica, sans-serif" font-size="19.4" text-anchor="end" fill="#262626" stroke="#262626" stroke-width="0.3" letter-spacing="-0.55" clip-path="url(#k1)">1</text>
<text transform="translate(63.6 733.1) scale(1.04 1)" font-family="Liberation Sans, Arial, Helvetica, sans-serif" font-size="19.4" text-anchor="end" fill="#262626" stroke="#262626" stroke-width="0.3" letter-spacing="-0.55">0</text>
<text transform="translate(63.6 772.9) scale(1.04 1)" font-family="Liberation Sans, Arial, Helvetica, sans-serif" font-size="19.4" text-anchor="end" fill="#262626" stroke="#262626" stroke-width="0.3" letter-spacing="-0.55" clip-path="url(#k1)">-1</text>
<path d="M73 726C76.67 726 89.25 726.17 95 726C100.75 725.83 103.33 724.92 107.5 725C111.67 725.08 116.25 726.17 120 726.5C123.75 726.83 126.67 727.04 130 727C133.33 726.96 136.67 726.96 140 726.25C143.33 725.54 146.67 724.08 150 722.75C153.33 721.42 156.67 719.83 160 718.25C163.33 716.67 167.29 714.79 170 713.25C172.71 711.71 175.21 709.71 176.25 709L177.5 694.5L177.9 672L178.5 582" stroke="#0000ff" stroke-width="2.9" stroke-dasharray="2.5 1.8" stroke-dashoffset="0" fill="none" stroke-linejoin="round" clip-path="url(#cBL)"/>
<path d="M179.3 582L179.9 640L180.5 663L181.25 677C181.67 678.46 182.92 683.04 183.75 685.75C184.58 688.46 185.29 690.54 186.25 693.25C187.21 695.96 188.46 698.88 189.5 702C190.54 705.12 191.38 708.67 192.5 712C193.62 715.33 195 718.88 196.25 722C197.5 725.12 198.38 727.83 200 730.75C201.62 733.67 204.17 737.12 206 739.5C207.83 741.88 209.33 743.62 211 745C212.67 746.38 214.54 747.42 216 747.75C217.46 748.08 218.5 747.96 219.75 747C221 746.04 222.25 743.88 223.5 742C224.75 740.12 226 737.62 227.25 735.75C228.5 733.88 229.62 732 231 730.75C232.38 729.5 234.04 728.25 235.5 728.25C236.96 728.25 238.42 729.29 239.75 730.75C241.08 732.21 242.25 734.5 243.5 737C244.75 739.5 246 743.25 247.25 745.75C248.5 748.25 249.54 750.21 251 752C252.46 753.79 254.33 755.38 256 756.5C257.67 757.62 259.29 758.25 261 758.75C262.71 759.25 264.33 759.5 266.25 759.5C268.17 759.5 270.42 759.25 272.5 758.75C274.58 758.25 276.88 757.42 278.75 756.5C280.62 755.58 282.08 754.83 283.75 753.25C285.42 751.67 287.29 749.08 288.75 747C290.21 744.92 291.25 743.25 292.5 740.75C293.75 738.25 295 735.54 296.25 732C297.5 728.46 298.75 724.08 300 719.5C301.25 714.92 302.58 709.29 303.75 704.5C304.92 699.71 305.96 694.5 307 690.75C308.04 687 309 683.96 310 682C311 680.04 311.96 678.79 313 679C314.04 679.21 315.17 681.08 316.25 683.25C317.33 685.42 318.38 688.88 319.5 692C320.62 695.12 321.75 698.67 323 702C324.25 705.33 325.62 708.88 327 712C328.38 715.12 329.92 718.33 331.25 720.75C332.58 723.17 334.38 725.54 335 726.5" stroke="#0000ff" stroke-width="2.9" stroke-dasharray="2.5 1.8" stroke-dashoffset="0" fill="none" stroke-linejoin="round" clip-path="url(#cBL)"/>
<path d="M73 726C75 725.75 81.75 724.42 85 724.5C88.25 724.58 89.58 725.79 92.5 726.5C95.42 727.21 100 729.29 102.5 728.75C105 728.21 105.42 725.33 107.5 723.25C109.58 721.17 113.12 716.46 115 716.25C116.88 716.04 117.42 718.75 118.75 722C120.08 725.25 121.62 732.42 123 735.75C124.38 739.08 125.75 742 127 742C128.25 742 129.17 739.92 130.5 735.75C131.83 731.58 133.54 721.67 135 717C136.46 712.33 138 708.17 139.25 707.75C140.5 707.33 141.21 710.67 142.5 714.5C143.79 718.33 145.54 726.71 147 730.75C148.46 734.79 149.92 738.54 151.25 738.75C152.58 738.96 153.54 736.46 155 732C156.46 727.54 158.54 717.62 160 712C161.46 706.38 162.71 701.08 163.75 698.25C164.79 695.42 165.42 694.79 166.25 695C167.08 695.21 167.71 696.04 168.75 699.5C169.79 702.96 171.25 710.96 172.5 715.75C173.75 720.54 175.33 725.88 176.25 728.25C177.17 730.62 177.71 729.71 178 730L178 730L178.75 695L191.25 695L193 707L195 708.25L197.5 724.5L200.25 733.25L202.5 726L205 714.5L206.4 738.25L208 718.25L209.5 732L211.25 734.5L214.5 733.25L216.75 700.75L218 734.5L220 728.25L222 742L225.25 757.5L229 757.5L231 755.25L232.5 757.5L246.25 757.5L248.75 742L251.25 724.5L253.75 719L256.25 724.5L259.5 727.5L262.5 725.75L265.5 727L268.75 724.5L270.75 727L272.5 750.75L274.5 722L276.25 697L277.5 695.75L279.25 714.5L281.25 734.5L283.75 747L286.25 755.75L288.75 757.5L291 757L292.5 742L294 757.5L296.5 757.5L298 748.25L299.5 757.5L302.5 757.5L305 747L307.5 722L310 699.5L311.75 695L321.25 695L324.5 698.25L327.5 707L331.25 718.25L335 725.75" stroke="#ad3bff" stroke-width="3" fill="none" stroke-linejoin="round" clip-path="url(#cBL)"/>
<path d="M72.7 675.3H335" stroke="#808080" stroke-width="2" stroke-dasharray="8.7 8.25" stroke-dashoffset="0" fill="none"/>
<path d="M72.7 776.6H335" stroke="#808080" stroke-width="2" stroke-dasharray="8.7 8.25" stroke-dashoffset="0" fill="none"/>
<path d="M72.7 694.9H335" stroke="#ff00ff" stroke-width="2.5" stroke-dasharray="8.7 8.25" stroke-dashoffset="0" fill="none"/>
<path d="M72.7 757.4H335" stroke="#ff00ff" stroke-width="2.5" stroke-dasharray="8.7 8.25" stroke-dashoffset="0" fill="none"/>
<path d="M330 722L340 732M330 732L340 722" stroke="#ff0000" stroke-width="4.2" fill="none"/>
<g transform="translate(35 734.7) rotate(-90)" font-family="Liberation Serif, Times New Roman, serif" fill="#000"><text transform="translate(-0.77 0) scale(1.001 1)" font-size="22" stroke="#000" stroke-width="0.25">accel</text><text transform="translate(51.97 0.4) scale(0.694 1.17)" font-size="22" stroke="#000" stroke-width="0.25">[</text><text transform="translate(56.75 0) scale(1.200 1)" font-size="22" font-style="italic">m</text><text transform="translate(79.16 4.2) scale(1.250 1.46)" font-size="22" font-style="italic">/</text><text transform="translate(88.48 0) scale(1.180 1)" font-size="22" font-style="italic" stroke="#000" stroke-width="0.1">s</text><text transform="translate(97 -7.7) scale(1.037 1)" font-size="15.4" stroke="#000" stroke-width="0.25">2</text><text transform="translate(104.55 0.4) scale(0.694 1.17)" font-size="22" stroke="#000" stroke-width="0.25">]</text></g>
<g transform="translate(169 826)" font-family="Liberation Serif, Times New Roman, serif" fill="#000"><text transform="translate(-0.22 0) scale(1.039 1)" font-size="22" stroke="#000" stroke-width="0.25">time</text><text transform="translate(48.67 1.6) scale(0.694 1.17)" font-size="22" stroke="#000" stroke-width="0.25">[</text><text transform="translate(55.09 0) scale(1.154 1)" font-size="22" font-style="italic" stroke="#000" stroke-width="0.25">s</text><text transform="translate(64.35 1.6) scale(0.694 1.17)" font-size="22" stroke="#000" stroke-width="0.25">]</text></g>
<path d="M421.4 582V777.3H680" stroke="#262626" stroke-width="1.3" fill="none"/>
<path d="M421.4 777.3v-3M536.2 777.3v-3M651.1 777.3v-3M421.4 624.5h3M421.4 690.1h3M421.4 755.9h3" stroke="#262626" stroke-width="1.3" fill="none"/>
<text transform="translate(419.9 803.3) scale(1.04 1)" font-family="Liberation Sans, Arial, Helvetica, sans-serif" font-size="19.4" text-anchor="middle" fill="#262626" stroke="#262626" stroke-width="0.3" letter-spacing="-0.55">0</text>
<text transform="translate(534.7 803.3) scale(1.04 1)" font-family="Liberation Sans, Arial, Helvetica, sans-serif" font-size="19.4" text-anchor="middle" fill="#262626" stroke="#262626" stroke-width="0.3" letter-spacing="-0.55">2</text>
<text transform="translate(649.6 803.3) scale(1.04 1)" font-family="Liberation Sans, Arial, Helvetica, sans-serif" font-size="19.4" text-anchor="middle" fill="#262626" stroke="#262626" stroke-width="0.3" letter-spacing="-0.55">4</text>
<text transform="translate(411.9 631.6) scale(1.04 1)" font-family="Liberation Sans, Arial, Helvetica, sans-serif" font-size="19.4" text-anchor="end" fill="#262626" stroke="#262626" stroke-width="0.3" letter-spacing="-0.55" clip-path="url(#k10)">10</text>
<text transform="translate(411.9 697.2) scale(1.04 1)" font-family="Liberation Sans, Arial, Helvetica, sans-serif" font-size="19.4" text-anchor="end" fill="#262626" stroke="#262626" stroke-width="0.3" letter-spacing="-0.55">5</text>
<text transform="translate(411.9 763) scale(1.04 1)" font-family="Liberation Sans, Arial, Helvetica, sans-serif" font-size="19.4" text-anchor="end" fill="#262626" stroke="#262626" stroke-width="0.3" letter-spacing="-0.55">0</text>
<path d="M421.25 755.75C425.62 755.75 441.04 755.54 447.5 755.75C453.96 755.96 455.83 757.21 460 757C464.17 756.79 468.75 755.54 472.5 754.5C476.25 753.46 479.58 751.67 482.5 750.75C485.42 749.83 487.5 749.12 490 749C492.5 748.88 495 749.71 497.5 750C500 750.29 502.5 750.08 505 750.75C507.5 751.42 510 753.04 512.5 754C515 754.96 517.5 755.92 520 756.5C522.5 757.08 525 757.21 527.5 757.5C530 757.79 532.5 758.12 535 758.25C537.5 758.38 540 758.38 542.5 758.25C545 758.12 548.75 757.62 550 757.5" stroke="#0000ff" stroke-width="2.9" stroke-dasharray="2.5 1.8" stroke-dashoffset="0" fill="none" stroke-linejoin="round" clip-path="url(#cBR)"/>
<path d="M550 757.5L551.6 759L552.5 584L553.9 763.78L554.9 609.6L556.2 766.79L557.1 636.4L558.25 769.23L559 659L560.2 771.05L561 679L562.2 772.46L563 693.4L564.2 773.56L565 707L566.2 774.62L567 718.8L568.2 775.65L569 727L570.2 776.25L571 735.5L572.2 776.79L573 741L574.2 777.14L575 748L576.3 777.4L577.2 753L578.55 777.54L579.5 757.5L580.95 777.31L582 761L583.7 777.03L585 764L586.95 775.97L588.5 766.3L590.45 774.62L592 768L594.2 773.06L596 769.5L597.7 771.65L600 770.5" stroke="#0000ff" stroke-width="3" stroke-dasharray="2.6 1.6" stroke-dashoffset="0" fill="none" stroke-linejoin="round" clip-path="url(#cBR)"/>
<path d="M600 770.5C602.4 769.83 610.4 767.5 614.4 766.5C618.4 765.5 621.15 765.25 624 764.5C626.85 763.75 629.42 763.04 631.5 762C633.58 760.96 634.83 759.92 636.5 758.25C638.17 756.58 640.04 753.88 641.5 752C642.96 750.12 644 748.33 645.25 747C646.5 745.67 647.75 744.71 649 744C650.25 743.29 651.5 742.83 652.75 742.75C654 742.67 655.04 742.79 656.5 743.5C657.96 744.21 659.83 745.79 661.5 747C663.17 748.21 664.83 749.58 666.5 750.75C668.17 751.92 669.83 753.08 671.5 754C673.17 754.92 675.17 755.75 676.5 756.25C677.83 756.75 679 756.88 679.5 757" stroke="#0000ff" stroke-width="2.9" stroke-dasharray="2.5 1.8" stroke-dashoffset="0" fill="none" stroke-linejoin="round" clip-path="url(#cBR)"/>
<path d="M421.25 755.75C425.62 755.67 442.08 755.12 447.5 755.25C452.92 755.38 451.67 756 453.75 756.5C455.83 757 458.12 758.38 460 758.25C461.88 758.12 463.33 756.71 465 755.75C466.67 754.79 468.54 752.58 470 752.5C471.46 752.42 472.5 754.29 473.75 755.25C475 756.21 476.25 758.38 477.5 758.25C478.75 758.12 480 756.17 481.25 754.5C482.5 752.83 483.75 749.71 485 748.25C486.25 746.79 487.5 745.33 488.75 745.75C490 746.17 491.25 749.29 492.5 750.75C493.75 752.21 495 754.5 496.25 754.5C497.5 754.5 498.75 752.29 500 750.75C501.25 749.21 502.71 746.08 503.75 745.25C504.79 744.42 505.21 744.21 506.25 745.75C507.29 747.29 508.62 751.88 510 754.5C511.38 757.12 513.17 761.08 514.5 761.5C515.83 761.92 516.88 758.79 518 757C519.12 755.21 520.29 751.92 521.25 750.75C522.21 749.58 522.79 749.17 523.75 750C524.71 750.83 525.88 753.54 527 755.75C528.12 757.96 529.5 761.71 530.5 763.25C531.5 764.79 532.04 765.62 533 765C533.96 764.38 535.17 761.58 536.25 759.5C537.33 757.42 538.54 753.83 539.5 752.5C540.46 751.17 541.08 750.75 542 751.5C542.92 752.25 543.88 754.83 545 757C546.12 759.17 547.71 763.17 548.75 764.5C549.79 765.83 550.83 764.92 551.25 765L551.25 765L552.5 745.25L571.6 745.25L572.9 754L574.7 756.5L576 760.3L578.5 765.2L581 766.5L603.3 766.5L605.8 761.5L607.6 759.6L609.5 762.5L612 751.6L613.8 746.2L615.7 748.5L618.2 755.3L620.6 761.5L623.1 765.2L624.5 766.5L627.5 766.5L629.5 763.25L631.5 766.5L642.75 766.5L645.25 758.25L649 748.25L651.5 747L655.25 749.5L659 745.75L666.5 745.25L670.25 748.25L675.25 753.25L679.5 756.5" stroke="#ad3bff" stroke-width="3" fill="none" stroke-linejoin="round" clip-path="url(#cBR)"/>
<path d="M421.4 738.9H680" stroke="#808080" stroke-width="2" stroke-dasharray="8.7 8.25" stroke-dashoffset="0" fill="none"/>
<path d="M421.4 773.2H680" stroke="#808080" stroke-width="2" stroke-dasharray="8.7 8.25" stroke-dashoffset="0" fill="none"/>
<path d="M421.4 745.4H680" stroke="#ff00ff" stroke-width="2.5" stroke-dasharray="8.7 8.25" stroke-dashoffset="0" fill="none"/>
<path d="M421.4 766.6H680" stroke="#ff00ff" stroke-width="2.5" stroke-dasharray="8.7 8.25" stroke-dashoffset="0" fill="none"/>
<path d="M675 752L685 762M675 762L685 752" stroke="#ff0000" stroke-width="4.2" fill="none"/>
<g transform="translate(378 735.4) rotate(-90)" font-family="Liberation Serif, Times New Roman, serif" fill="#000"><text transform="translate(-0.77 0) scale(1.001 1)" font-size="22" stroke="#000" stroke-width="0.25">accel</text><text transform="translate(51.97 0.4) scale(0.694 1.17)" font-size="22" stroke="#000" stroke-width="0.25">[</text><text transform="translate(56.75 0) scale(1.200 1)" font-size="22" font-style="italic">m</text><text transform="translate(79.16 4.2) scale(1.250 1.46)" font-size="22" font-style="italic">/</text><text transform="translate(88.48 0) scale(1.180 1)" font-size="22" font-style="italic" stroke="#000" stroke-width="0.1">s</text><text transform="translate(97 -7.7) scale(1.037 1)" font-size="15.4" stroke="#000" stroke-width="0.25">2</text><text transform="translate(104.55 0.4) scale(0.694 1.17)" font-size="22" stroke="#000" stroke-width="0.25">]</text></g>
<g transform="translate(516 826)" font-family="Liberation Serif, Times New Roman, serif" fill="#000"><text transform="translate(-0.22 0) scale(1.039 1)" font-size="22" stroke="#000" stroke-width="0.25">time</text><text transform="translate(48.67 1.6) scale(0.694 1.17)" font-size="22" stroke="#000" stroke-width="0.25">[</text><text transform="translate(55.09 0) scale(1.154 1)" font-size="22" font-style="italic" stroke="#000" stroke-width="0.25">s</text><text transform="translate(64.35 1.6) scale(0.694 1.17)" font-size="22" stroke="#000" stroke-width="0.25">]</text></g>
<rect x="151.5" y="1.5" width="436" height="35" fill="#fff" stroke="#262626" stroke-width="1.1"/>
<path d="M154.9 19H196.5" stroke="#0000ff" stroke-width="2.8" stroke-dasharray="2.8 1.5" fill="none"/>
<path d="M272 19H314" stroke="#ad3bff" stroke-width="2.5" fill="none"/>
<path d="M397.4 19H439.6" stroke="#ff0000" stroke-width="2.5" fill="none"/>
<text transform="translate(201.4 25.6) scale(1.06 1)" font-family="Liberation Serif, Times New Roman, serif" font-size="26.3" font-style="italic" letter-spacing="1.2" fill="#000" stroke="#000" stroke-width="0.25">DMP</text>
<text transform="translate(317.4 26) scale(1.06 1)" font-family="Liberation Serif, Times New Roman, serif" font-size="26.3" font-style="italic" letter-spacing="1.7" fill="#000" stroke="#000" stroke-width="0.25">DMP</text>
<path d="M316 6H380.6" stroke="#000" stroke-width="1" fill="none"/>
<text x="380.4" y="15.1" font-family="Liberation Serif, Times New Roman, serif" font-size="17" fill="#000" stroke="#000" stroke-width="0.2">*</text>
<text x="443.6" y="24.6" font-family="Liberation Serif, Times New Roman, serif" font-size="25" textLength="58.6" lengthAdjust="spacingAndGlyphs" fill="#000" stroke="#000" stroke-width="0.3">target</text>
<text x="513.8" y="24.6" font-family="Liberation Serif, Times New Roman, serif" font-size="25" textLength="70.4" lengthAdjust="spacingAndGlyphs" fill="#000" stroke="#000" stroke-width="0.3">update</text>
</svg>
</body></html>
